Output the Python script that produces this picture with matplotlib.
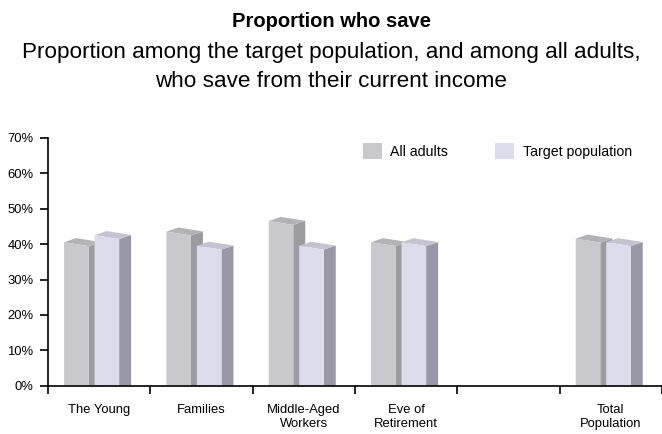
import matplotlib.pyplot as plt
from matplotlib.patches import Polygon, Patch

plt.rcParams['font.family'] = ['Liberation Sans', 'DejaVu Sans']

categories = ['The Young', 'Families', 'Middle-Aged\nWorkers', 'Eve of\nRetirement', '', 'Total\nPopulation']
all_adults = [40, 43, 46, 40, None, 41]
target_pop = [42, 39, 39, 40, None, 40]
yticks = [0, 10, 20, 30, 40, 50, 60, 70]

col_all = ('#c9c8cc', '#9c9ba0', '#b3b2b6')
col_tgt = ('#dddcec', '#9a98a6', '#c5c3d2')


def bar3d(ax, x0, v, cols, w=0.24, dx=0.117, dy=1.15, s=1.1):
    face, side, top = cols
    front = [(x0, 0), (x0 + w, 0), (x0 + w, v - s / 2), (x0, v + s / 2)]
    sid = [(x0 + w, 0), (x0 + w + dx, 0), (x0 + w + dx, v - s / 2 + dy), (x0 + w, v - s / 2)]
    tp = [(x0, v + s / 2), (x0 + w, v - s / 2), (x0 + w + dx, v - s / 2 + dy), (x0 + dx, v + s / 2 + dy)]
    for pts, c in [(sid, side), (tp, top), (front, face)]:
        ax.add_patch(Polygon(pts, closed=True, facecolor=c, edgecolor='none'))


fig = plt.figure(figsize=(6.62, 4.34), dpi=100)
ax = fig.add_axes([48 / 662, 1 - 385.7 / 434, 614 / 662, 247.7 / 434])

for i in range(len(categories)):
    if all_adults[i] is not None:
        bar3d(ax, i + 0.157, all_adults[i], col_all)
    if target_pop[i] is not None:
        bar3d(ax, i + 0.455, target_pop[i], col_tgt)

ax.set_xlim(0, len(categories))
ax.set_ylim(0, 70)
for sp in ['top', 'right']:
    ax.spines[sp].set_visible(False)
ax.spines['left'].set_linewidth(1.2)
ax.spines['bottom'].set_linewidth(1.2)

ax.set_xticks(range(len(categories) + 1))
ax.set_xticklabels([])
ax.set_xticks([i + 0.5 for i in range(len(categories))], minor=True)
ax.set_xticklabels(categories, minor=True, fontsize=9.4, linespacing=1.25)
ax.tick_params(axis='x', which='major', length=6, width=1.2, direction='out')
ax.tick_params(axis='x', which='minor', length=0, pad=13)

ax.set_yticks(yticks)
ax.set_yticklabels([f'{t}%' for t in yticks], fontsize=9.4)
ax.tick_params(axis='y', length=5.5, width=1.2, pad=5)

handles = [Patch(facecolor=col_all[0], label='All adults'),
           Patch(facecolor=col_tgt[0], label='Target population')]
ax.legend(handles=handles, loc='upper left', bbox_to_anchor=(0.492, 1.03), ncol=2,
          frameon=False, fontsize=10.2, handlelength=1.35, handleheight=1.35,
          columnspacing=3.3, handletextpad=0.6)

fig.text(0.5, 1 - 26.7 / 434, 'Proportion who save', ha='center', va='baseline',
         fontsize=14.5, fontweight='bold')
fig.text(0.5, 1 - 58.3 / 434, 'Proportion among the target population, and among all adults,',
         ha='center', va='baseline', fontsize=16.2)
fig.text(0.5, 1 - 87.3 / 434, 'who save from their current income',
         ha='center', va='baseline', fontsize=16.2)

fig.savefig('out.png', dpi=100)
